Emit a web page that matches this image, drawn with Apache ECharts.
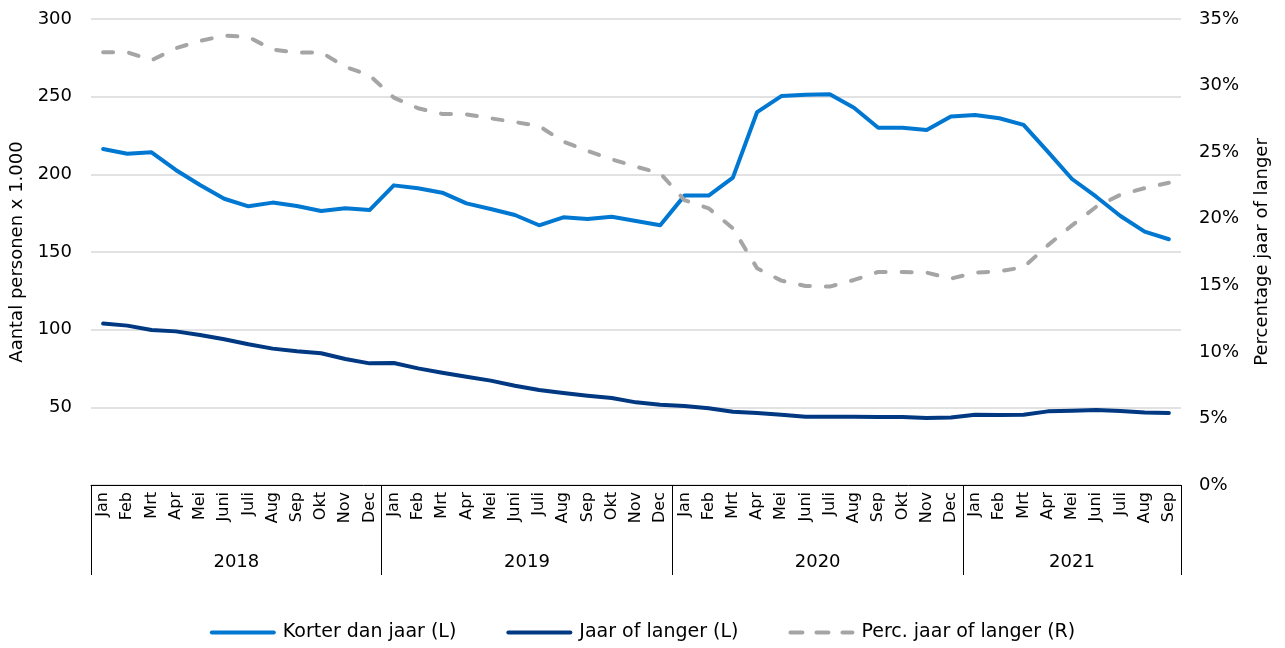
<!DOCTYPE html>
<html>
<head>
<meta charset="utf-8">
<script src="https://cdn.jsdelivr.net/npm/echarts@6/dist/echarts.min.js"></script>
<style>html,body{margin:0;padding:0;background:#fff}#c{width:1285px;height:648px}</style>
</head>
<body>
<div id="c"></div>
<script>
const years = ['2018', '2019', '2020', '2021'];
const monthsFull = ['Jan','Feb','Mrt','Apr','Mei','Juni','Juli','Aug','Sep','Okt','Nov','Dec'];
const monthsPerYear = [12, 12, 12, 9];

const korter = [216.3, 213.3, 214.2, 202.8, 193.1, 184.3, 179.4, 181.8, 179.6, 176.4, 178.1, 177.0,
  192.9, 191.0, 188.2, 181.3, 177.7, 173.8, 167.2, 172.3, 171.2, 172.7, 170.0, 167.2,
  186.3, 186.3, 197.9, 240.1, 250.4, 251.3, 251.5, 242.9, 230.0, 230.0, 228.5, 237.3,
  238.2, 236.1, 231.8, 214.6, 197.0, 185.6, 173.2, 163.1, 158.2];
const jaar = [103.9, 102.6, 99.8, 98.9, 96.6, 93.8, 90.6, 87.8, 86.1, 84.8, 81.1, 78.3,
  78.5, 75.1, 72.3, 69.7, 67.2, 63.9, 61.2, 59.2, 57.5, 56.0, 53.2, 51.7,
  50.8, 49.4, 47.2, 46.4, 45.3, 44.0, 44.0, 44.0, 43.8, 43.8, 43.1, 43.4,
  45.2, 45.1, 45.2, 47.4, 47.8, 48.3, 47.6, 46.6, 46.4];
const perc = [32.5, 32.5, 31.9, 32.8, 33.35, 33.75, 33.65, 32.7, 32.47, 32.5, 31.4, 30.77,
  29.1, 28.3, 27.87, 27.84, 27.54, 27.26, 26.96, 25.79, 25.09, 24.46, 23.91, 23.41,
  21.4, 20.78, 19.28, 16.28, 15.35, 14.95, 14.9, 15.4, 16.0, 16.0, 15.95, 15.5,
  15.95, 16.05, 16.35, 18.0, 19.5, 20.9, 21.8, 22.3, 22.7];

const seriesNames = ['Korter dan jaar (L)', 'Jaar of langer (L)', 'Perc. jaar of langer (R)'];
const leftTicks = {min: 0, max: 300, interval: 50};
const rightTicks = {min: 0, max: 35, interval: 5};

// build categories and year boundaries
const categories = [];
const boundaries = [0];
const yearCenters = {};
let count = 0;
monthsPerYear.forEach((n, yi) => {
  for (let m = 0; m < n; m++) categories.push(monthsFull[m]);
  yearCenters[count + n / 2] = years[yi];
  count += n;
  boundaries.push(count);
});
const centerValues = Object.keys(yearCenters).map(Number);

const FONT = 'DejaVu Sans';
const SOLID_ICON = 'path://M2,0H64A2,2 0 0 1 64,4H2A2,2 0 0 1 2,0Z';
const DASH_ICON = 'path://M2,0H14A2,2 0 0 1 14,4H2A2,2 0 0 1 2,0Z M28,0H40A2,2 0 0 1 40,4H28A2,2 0 0 1 28,0Z M54,0H64A2,2 0 0 1 64,4H54A2,2 0 0 1 54,0Z';

const chart = echarts.init(document.getElementById('c'), null, {renderer: 'canvas'});
chart.setOption({
  animation: false,
  textStyle: {fontFamily: FONT, color: '#000'},
  grid: {left: 91, right: 104, top: 19, bottom: 163},
  legend: {
    bottom: 1, left: 'center',
    itemWidth: 70, itemHeight: 4, itemGap: 50,
    textStyle: {fontFamily: FONT, fontSize: 19, color: '#000'},
    data: [
      {name: seriesNames[0], icon: SOLID_ICON},
      {name: seriesNames[1], icon: SOLID_ICON},
      {name: seriesNames[2], icon: DASH_ICON}
    ]
  },
  xAxis: [{
    type: 'category',
    data: categories,
    boundaryGap: true,
    axisLine: {show: true, lineStyle: {color: '#000', width: 1}},
    axisTick: {show: false},
    axisLabel: {interval: 0, rotate: 90, fontSize: 16, color: '#000', fontFamily: FONT, margin: 7}
  }, {
    type: 'value',
    position: 'bottom',
    min: 0, max: count,
    axisLine: {show: false},
    splitLine: {show: false},
    axisTick: {show: true, customValues: boundaries, length: 90, lineStyle: {color: '#000', width: 1}},
    axisLabel: {
      customValues: centerValues,
      formatter: v => yearCenters[v] || '',
      fontSize: 18, color: '#000', fontFamily: FONT, margin: 68
    }
  }],
  yAxis: [{
    type: 'value',
    min: leftTicks.min, max: leftTicks.max, interval: leftTicks.interval,
    name: 'Aantal personen x 1.000',
    nameLocation: 'middle', nameGap: 63,
    nameTextStyle: {fontSize: 18, color: '#000', fontFamily: FONT},
    axisLine: {show: false}, axisTick: {show: false},
    axisLabel: {showMinLabel: false, fontSize: 18, color: '#000', fontFamily: FONT, margin: 19},
    splitLine: {show: true, lineStyle: {color: '#D9D9D9', width: 1.5}}
  }, {
    type: 'value',
    min: rightTicks.min, max: rightTicks.max, interval: rightTicks.interval,
    position: 'right',
    name: 'Percentage jaar of langer',
    nameLocation: 'middle', nameGap: 72,
    nameTextStyle: {fontSize: 18, color: '#000', fontFamily: FONT},
    axisLine: {show: false}, axisTick: {show: false},
    axisLabel: {formatter: v => v + '%', fontSize: 18, color: '#000', fontFamily: FONT, margin: 18},
    splitLine: {show: false}
  }],
  series: [{
    name: seriesNames[0], type: 'line', xAxisIndex: 0, yAxisIndex: 0,
    data: korter, showSymbol: false, symbol: 'none',
    lineStyle: {color: '#0078D2', width: 4, cap: 'round', join: 'round'},
    itemStyle: {color: '#0078D2'}
  }, {
    name: seriesNames[1], type: 'line', xAxisIndex: 0, yAxisIndex: 0,
    data: jaar, showSymbol: false, symbol: 'none',
    lineStyle: {color: '#003882', width: 4, cap: 'round', join: 'round'},
    itemStyle: {color: '#003882'}
  }, {
    name: seriesNames[2], type: 'line', xAxisIndex: 0, yAxisIndex: 1,
    data: perc, showSymbol: false, symbol: 'none',
    lineStyle: {color: '#A5A5A5', width: 4, type: [10, 16], cap: 'round', join: 'round'},
    itemStyle: {color: '#A5A5A5'}
  }]
});
</script>
</body>
</html>
